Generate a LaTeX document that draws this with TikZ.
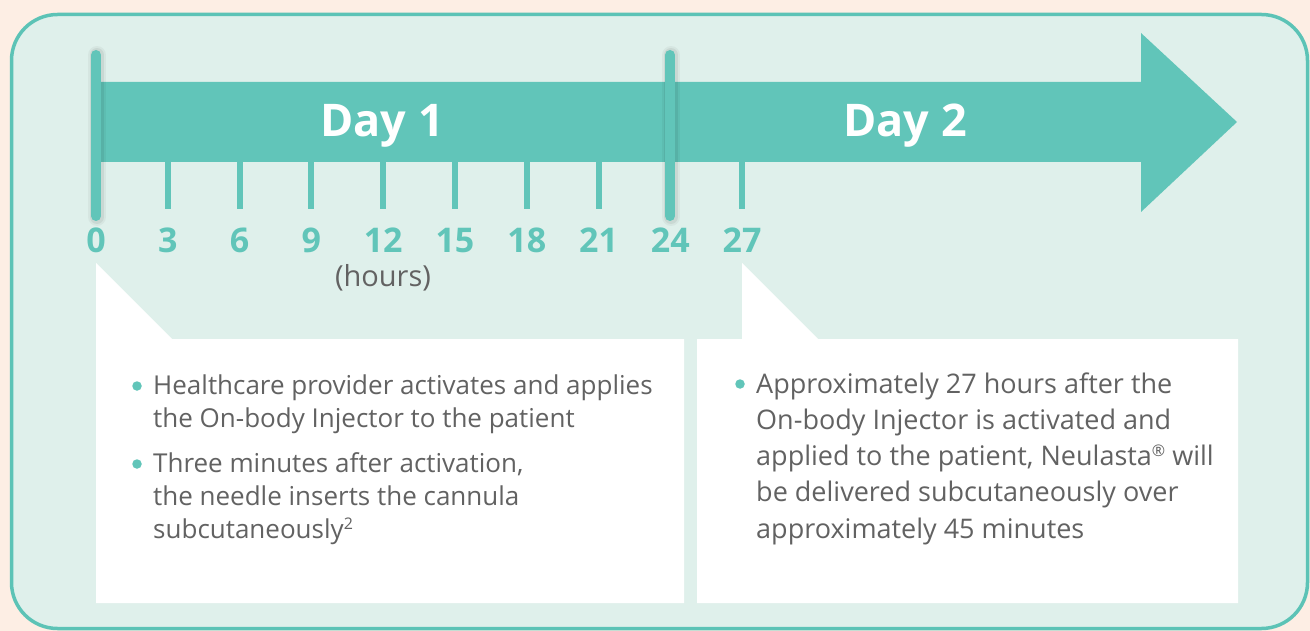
\documentclass[tikz,border=0pt]{standalone}
\usepackage{fontspec}
\setmainfont{Open Sans}
\definecolor{teal1}{RGB}{97,197,185}
\definecolor{tealedge}{RGB}{92,195,182}
\definecolor{panel}{RGB}{223,240,235}
\definecolor{peach}{RGB}{253,238,228}
\definecolor{txt}{RGB}{98,98,98}
\tikzset{
  hourlbl/.style={text=teal1, font=\fontsize{34}{34}\selectfont\bfseries, inner sep=0pt, anchor=base},
  daylbl/.style={text=white, font=\fontsize{45}{45}\selectfont\bfseries, inner sep=0pt, anchor=base},
  bodyline/.style={text=txt, font=\fontsize{26}{33}\selectfont, inner sep=0pt, anchor=base west},
  bodylineR/.style={text=txt, font=\fontsize{27}{36}\selectfont, inner sep=0pt, anchor=base west},
  bulletdot/.style={circle, fill=teal1, minimum size=9.5pt, inner sep=0pt},
  daybar/.style={teal1, line width=10pt, line cap=round},
  barshadow/.style={black, line cap=round},
  tickmark/.style={teal1, line width=6pt},
  callout/.style={fill=white}
}
\newcommand{\supsmall}[1]{\raisebox{8.5pt}{\fontsize{16}{16}\selectfont #1}}
\begin{document}
\begin{tikzpicture}[x=1pt,y=-1pt]
\fill[peach] (0,0) rectangle (1310,631);
\useasboundingbox (0,0) rectangle (1310,631);
% panel
\draw[tealedge, line width=3.5pt, fill=panel, rounded corners=46pt] (11.5,14.5) rectangle (1307.5,628.5);
% arrow
\fill[teal1] (96,82) -- (1141,82) -- (1141,33) -- (1237,122) -- (1141,212) -- (1141,162) -- (96,162) -- cycle;
% ticks
\foreach \h in {3,6,9,12,15,18,21,27}{
  \draw[tickmark] ({96+\h*23.93},162) -- ({96+\h*23.93},209);
}
% bars with soft shadow
\foreach \xx in {96,670}{
  \draw[barshadow, line width=18pt, opacity=0.04] (\xx+1,55) -- (\xx+1,217);
  \draw[barshadow, line width=14pt, opacity=0.06] (\xx+1,55) -- (\xx+1,217);
  \draw[daybar] (\xx,55) -- (\xx,216);
}
% hour labels
\foreach \h in {0,3,6,9,12,15,18,21,24,27}{
  \node[hourlbl] (h\h) at ({96+\h*23.93},253) {\h};
}
\node[text=txt, font=\fontsize{29}{29}\selectfont, inner sep=0pt, anchor=base] (hours) at (383,287) {(hours)};
% day labels
\node[daylbl] (day1) at (382,137) {Day 1};
\node[daylbl] (day2) at (905,137) {Day 2};
% callouts
\fill[callout] (96,263) -- (172,339) -- (684,339) -- (684,603) -- (96,603) -- cycle;
\fill[callout] (742,263) -- (818,339) -- (1238,339) -- (1238,603) -- (697,603) -- (697,339) -- (742,339) -- cycle;
% left text
\node[bulletdot] (b1) at (137,386) {};
\node[bodyline] (l1) at (153,394) {Healthcare provider activates and applies};
\node[bodyline] (l2) at (153,427) {the On-body Injector to the patient};
\node[bulletdot] (b2) at (137,464) {};
\node[bodyline] (l3) at (153,472) {Three minutes after activation,};
\node[bodyline] (l4) at (153,505) {the needle inserts the cannula};
\node[bodyline] (l5) at (153,538) {subcutaneously\supsmall{2}};
% right text
\node[bulletdot] (b3) at (740,384) {};
\node[bodylineR] (r1) at (756,393) {Approximately 27 hours after the};
\node[bodylineR] (r2) at (756,429) {On-body Injector is activated and};
\node[bodylineR] (r3) at (756,465) {applied to the patient, Neulasta\supsmall{®} will};
\node[bodylineR] (r4) at (756,501) {be delivered subcutaneously over};
\node[bodylineR] (r5) at (756,538) {approximately 45 minutes};
\end{tikzpicture}
\end{document}
